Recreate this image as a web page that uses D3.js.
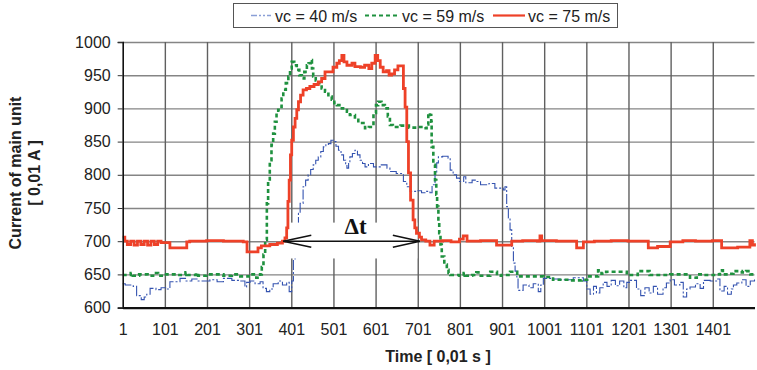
<!DOCTYPE html>
<html>
<head>
<meta charset="utf-8">
<script src="https://cdn.jsdelivr.net/npm/d3@7"></script>
<style>
  body { margin: 0; background: #fff; }
  svg { display: block; font-family: 'Liberation Sans', Arial, sans-serif; }
</style>
</head>
<body>
<div id="chart"></div>
<script>
// tick labels
const yTicks = [600, 650, 700, 750, 800, 850, 900, 950, 1000];
const xTicks = [1, 101, 201, 301, 401, 501, 601, 701, 801, 901, 1001, 1101, 1201, 1301, 1401];
const seriesNames = ['vc = 40 m/s', 'vc = 59 m/s', 'vc = 75 m/s'];

// [time, current] breakpoints (step line)
const vc40 = [[1,636],[7,634],[26,632],[34,618],[45,612],[52,616],[58,620],[66,629],[80,627],[92,630],[105,628],[113,639],[137,644],[150,640],[165,643],[180,640],[208,642],[225,639],[240,644],[260,641],[279,640],[291,631],[295,638],[303,640],[315,636],[327,639],[334,629],[342,624],[350,628],[358,636],[370,640],[380,634],[390,638],[396,624],[402,640],[406,672],[410,700],[414,724],[418,742],[422,757],[429,782],[435,792],[441,800],[447,808],[453,815],[459,822],[465,827],[471,835],[477,842],[483,845],[489,847],[495,852],[501,850],[507,843],[513,837],[519,830],[525,822],[530,815],[533,810],[537,818],[540,827],[546,832],[552,837],[558,830],[564,822],[570,817],[576,812],[584,817],[596,812],[612,815],[628,810],[635,805],[650,802],[667,790],[675,782],[683,775],[700,776],[710,773],[722,775],[730,773],[735,785],[742,802],[746,818],[750,827],[760,828],[773,825],[778,807],[785,800],[793,795],[800,790],[810,797],[815,788],[830,792],[840,790],[850,785],[870,787],[884,780],[904,777],[908,782],[912,752],[916,735],[920,717],[924,692],[928,667],[932,655],[936,646],[939,626],[951,634],[965,630],[975,636],[987,624],[993,634],[999,644],[1020,643],[1039,642],[1070,645],[1094,640],[1102,628],[1110,620],[1118,632],[1125,622],[1133,630],[1141,638],[1150,632],[1160,641],[1170,633],[1180,640],[1190,630],[1197,638],[1205,641],[1220,628],[1230,618],[1240,630],[1250,622],[1260,632],[1270,620],[1283,630],[1291,637],[1300,642],[1310,634],[1323,638],[1331,616],[1339,628],[1347,631],[1360,636],[1371,629],[1379,641],[1395,640],[1410,643],[1418,625],[1428,632],[1436,620],[1445,628],[1450,634],[1458,637],[1470,642],[1480,632],[1490,640],[1500,645]];

const vc59 = [[1,649],[20,652],[25,648],[40,650],[60,648],[80,652],[85,648],[100,650],[130,649],[150,653],[155,649],[175,652],[180,648],[200,650],[240,648],[260,650],[280,647],[300,650],[318,645],[327,650],[331,661],[335,680],[339,702],[343,757],[346,790],[350,822],[354,845],[358,862],[362,880],[366,893],[370,898],[374,902],[378,915],[382,928],[388,938],[394,948],[398,960],[402,970],[408,965],[414,958],[420,950],[426,945],[432,955],[438,965],[442,968],[447,973],[450,960],[453,948],[459,942],[465,938],[473,930],[481,925],[489,918],[497,913],[503,908],[509,905],[521,900],[533,895],[540,890],[552,883],[560,878],[576,870],[585,872],[592,872],[596,893],[602,905],[607,910],[615,905],[623,900],[630,888],[635,875],[642,872],[660,874],[680,871],[700,872],[715,870],[722,876],[726,893],[730,890],[733,880],[734,842],[738,815],[742,792],[745,770],[747,752],[750,730],[752,712],[755,695],[758,677],[764,665],[770,657],[774,652],[778,649],[800,648],[810,652],[815,648],[830,649],[840,653],[845,648],[873,654],[889,648],[900,649],[920,654],[937,647],[960,647],[1000,646],[1022,642],[1060,641],[1090,642],[1103,647],[1129,656],[1137,651],[1148,654],[1197,649],[1223,655],[1251,649],[1300,650],[1347,645],[1363,650],[1380,649],[1410,650],[1418,656],[1425,650],[1440,651],[1450,655],[1470,653],[1480,655],[1490,650],[1500,650]];

const vc75 = [[1,706],[6,700],[12,695],[20,700],[28,694],[36,700],[44,695],[52,700],[60,694],[68,700],[76,695],[84,700],[92,698],[113,690],[153,699],[160,700],[200,701],[240,700],[287,699],[296,684],[322,690],[330,693],[350,695],[368,697],[380,700],[386,705],[390,720],[393,760],[396,792],[399,830],[402,852],[406,872],[410,885],[414,898],[418,910],[423,920],[429,928],[437,930],[445,933],[455,936],[465,940],[473,945],[481,955],[493,955],[500,962],[509,968],[515,972],[521,980],[526,970],[533,965],[545,968],[552,963],[565,962],[575,965],[585,960],[592,968],[600,980],[606,972],[612,962],[619,955],[627,957],[633,950],[639,952],[646,958],[654,964],[665,964],[667,930],[671,902],[675,850],[679,803],[684,762],[690,732],[694,720],[698,712],[705,706],[710,702],[720,700],[730,694],[740,700],[760,701],[780,699],[800,703],[809,708],[818,700],[850,701],[888,694],[924,700],[950,701],[985,700],[991,708],[995,701],[1030,700],[1078,690],[1094,699],[1120,700],[1160,701],[1200,700],[1248,690],[1270,692],[1300,699],[1330,701],[1360,700],[1400,701],[1422,690],[1460,691],[1489,701],[1495,694],[1500,697]];

// delta t annotation: start, end, level
const deltaT = [382, 706, 700];

const W = 757, H = 370;
const margin = {top: 42, right: 2.5, bottom: 62.4, left: 122.7};

const svg = d3.select('#chart').append('svg').attr('width', W).attr('height', H);

const x = d3.scaleLinear().domain([1, 1500]).range([margin.left, W - margin.right]);
const y = d3.scaleLinear().domain([600, 1000]).range([H - margin.bottom, margin.top]);

// gridlines
svg.append('g')
  .attr('class', 'grid-y')
  .attr('transform', `translate(${margin.left},0)`)
  .call(d3.axisLeft(y).tickValues(yTicks.slice(1)).tickSize(-(W - margin.right - margin.left)).tickFormat(''))
  .call(g => g.select('.domain').remove())
  .selectAll('line').attr('stroke', '#858585').attr('stroke-width', 1.4);

svg.append('g')
  .attr('class', 'grid-x')
  .attr('transform', `translate(0,${H - margin.bottom})`)
  .call(d3.axisBottom(x).tickValues(xTicks.slice(1)).tickSize(-(H - margin.bottom - margin.top)).tickFormat(''))
  .call(g => g.select('.domain').remove())
  .selectAll('line').attr('stroke', '#606060').attr('stroke-width', 1.4);

const line = d3.line()
  .curve(d3.curveStepAfter)
  .x(d => x(d[0]))
  .y(d => y(d[1]));

svg.append('path').datum(vc40)
  .attr('d', line)
  .attr('fill', 'none')
  .attr('stroke', '#3453b0')
  .attr('stroke-width', 1.1)
  .attr('stroke-dasharray', '10,2,2,2');

svg.append('path').datum(vc59)
  .attr('d', line)
  .attr('fill', 'none')
  .attr('stroke', '#1f913f')
  .attr('stroke-width', 2.6)
  .attr('stroke-dasharray', '4,3');

// white box behind the delta t label
svg.append('rect')
  .attr('x', x(deltaT[0] + 8))
  .attr('y', y(728))
  .attr('width', x(deltaT[1] - 6) - x(deltaT[0] + 8))
  .attr('height', y(674) - y(728))
  .attr('fill', '#fff');

svg.append('path').datum(vc75)
  .attr('d', line)
  .attr('fill', 'none')
  .attr('stroke', '#ee4128')
  .attr('stroke-width', 2.8);

// axes
const yAxis = svg.append('g')
  .attr('transform', `translate(${margin.left},0)`)
  .call(d3.axisLeft(y).tickValues(yTicks).tickSize(5).tickPadding(7).tickFormat(d3.format('d')));
yAxis.select('.domain').attr('stroke', '#111').attr('stroke-width', 1.6);
yAxis.selectAll('.tick line').attr('stroke', '#333');
yAxis.selectAll('text').attr('font-size', 16).attr('fill', '#222').attr('font-family', 'Liberation Sans, Arial');

const xAxis = svg.append('g')
  .attr('transform', `translate(0,${H - margin.bottom})`)
  .call(d3.axisBottom(x).tickValues(xTicks).tickSize(0).tickPadding(16).tickFormat(d3.format('d')));
xAxis.select('.domain').attr('stroke', '#111').attr('stroke-width', 2.2);
xAxis.selectAll('text').attr('font-size', 16).attr('fill', '#222').attr('font-family', 'Liberation Sans, Arial');

// titles
svg.append('text')
  .attr('x', 438).attr('y', 362)
  .attr('text-anchor', 'middle')
  .attr('font-size', 16).attr('font-weight', 'bold').attr('fill', '#222')
  .text('Time [ 0,01 s ]');

const yt = svg.append('text')
  .attr('transform', 'translate(0,173) rotate(-90)')
  .attr('text-anchor', 'middle')
  .attr('font-size', 16).attr('font-weight', 'bold').attr('fill', '#222');
yt.append('tspan').attr('x', 0).attr('y', 21).text('Current of main unit');
yt.append('tspan').attr('x', 0).attr('y', 40).text('[ 0,01 A ]');

// delta t arrow
const ax0 = x(deltaT[0]), ax1 = x(deltaT[1]), ay = y(deltaT[2]);
svg.append('line')
  .attr('x1', ax0).attr('x2', ax1).attr('y1', ay).attr('y2', ay)
  .attr('stroke', '#111').attr('stroke-width', 1.6);
svg.append('path')
  .attr('d', `M${ax0 + 28},${ay - 6}L${ax0},${ay}L${ax0 + 28},${ay + 6}M${ax1 - 27},${ay - 6}L${ax1},${ay}L${ax1 - 27},${ay + 6}`)
  .attr('fill', 'none').attr('stroke', '#111').attr('stroke-width', 1.6);
svg.append('text')
  .attr('x', (ax0 + ax1) / 2 + 4).attr('y', 234)
  .attr('text-anchor', 'middle')
  .attr('font-family', 'Liberation Serif, Times New Roman, serif')
  .attr('font-size', 23).attr('font-weight', 'bold').attr('fill', '#111')
  .text('\u0394t');

// legend
const legend = svg.append('g');
legend.append('rect')
  .attr('x', 233.5).attr('y', 3.5).attr('width', 384).attr('height', 24)
  .attr('fill', '#fff').attr('stroke', '#555').attr('stroke-width', 1);
const legendItems = [
  {x0: 251, x1: 271, tx: 275, color: '#8a9fd6', width: 1.6, dash: '6,2,2,2,2,2'},
  {x0: 365, x1: 398, tx: 402, color: '#1f913f', width: 2.2, dash: '4,3'},
  {x0: 493, x1: 525, tx: 528, color: '#ee4128', width: 2.2, dash: null}
];
legendItems.forEach((d, i) => {
  legend.append('line')
    .attr('x1', d.x0).attr('x2', d.x1).attr('y1', 15.5).attr('y2', 15.5)
    .attr('stroke', d.color).attr('stroke-width', d.width)
    .attr('stroke-dasharray', d.dash);
  legend.append('text')
    .attr('x', d.tx).attr('y', 21.5)
    .attr('font-size', 16).attr('fill', '#222')
    .text(seriesNames[i]);
});
</script>
</body>
</html>
